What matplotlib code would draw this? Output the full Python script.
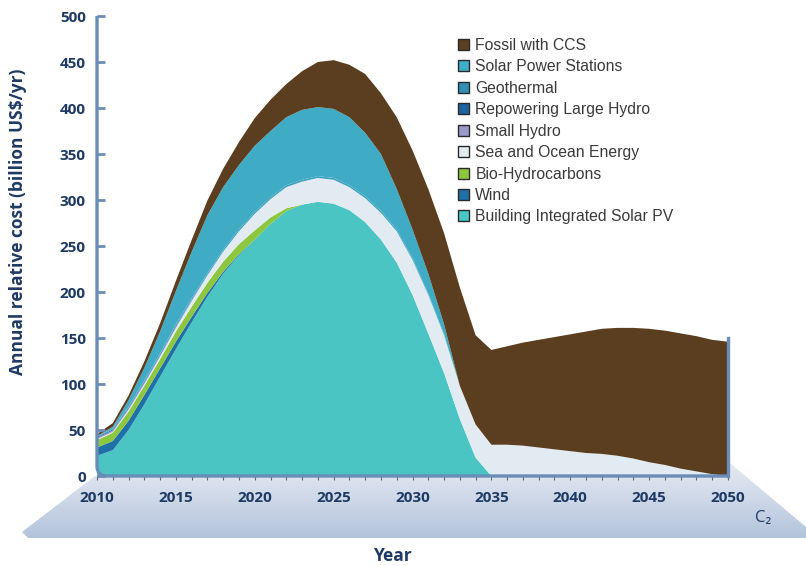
import numpy as np
import matplotlib.pyplot as plt
from matplotlib.patches import Polygon, PathPatch, Patch
from matplotlib.path import Path
from matplotlib.colors import LinearSegmentedColormap

years = list(range(2010, 2051))
bipv = [22, 28, 50, 78, 108, 138, 167, 195, 220, 240,
        257, 274, 288, 295, 298, 296, 289, 276, 257, 232,
        197, 155, 112, 62, 20] + [0] * 16
wind = [9, 10, 10, 10, 9, 8, 6, 4, 2, 1] + [0] * 31
bio = [8, 9, 10, 10, 10, 11, 11, 11, 11, 11, 10, 7, 3] + [0] * 28
sea = [1, 1, 2, 2, 3, 4, 6, 8, 11, 14,
       18, 20, 23, 25, 26, 26, 25, 26, 29, 34,
       38, 42, 41, 36, 36, 34, 34, 33, 31, 29,
       27, 25, 24, 22, 19, 15, 12, 8, 5, 2, 0]
small_hydro = [1.5, 1.5, 1.5, 1.5, 1, 1, 1, 0.5] + [0] * 33
large_hydro = [1, 1, 1, 1, 1, 1, 0.5] + [0] * 34
geothermal = [0.5, 1, 1, 1.5, 1.5, 2, 2, 2, 2, 2,
              2, 2, 2, 2, 2, 2, 2, 2, 2, 2,
              2, 1.5, 1, 0] + [0] * 17
solar_stations = [0.5, 2, 7, 13.5, 23.5, 36, 50, 63, 68, 70,
                  72, 72, 74, 76, 75, 75, 74, 69, 62, 44,
                  31, 21.5, 11, 0] + [0] * 17
fossil_ccs = [2, 4, 5, 7, 9, 11, 13, 16, 20, 25,
              30, 34, 36, 42, 49, 53, 57, 64, 66, 78,
              86, 92, 99, 107, 97, 103, 107, 112, 117, 122,
              127, 132, 136, 139, 142, 145, 146, 147, 147, 146, 146]

labels = ['Building Integrated Solar PV', 'Wind', 'Bio-Hydrocarbons',
          'Sea and Ocean Energy', 'Small Hydro', 'Repowering Large Hydro',
          'Geothermal', 'Solar Power Stations', 'Fossil with CCS']
series = [bipv, wind, bio, sea, small_hydro, large_hydro,
          geothermal, solar_stations, fossil_ccs]
colors = ['#4bc4c4', '#1f6fa8', '#8dc63f', '#e2eaf2', '#9b98cc',
          '#1c63a0', '#3aa0c0', '#40abc4', '#5b3e1f']
legend_colors = ['#4bc4c4', '#1f6fa8', '#8dc63f', '#e2eaf2', '#9b98cc',
                 '#1c63a0', '#2f8fb5', '#40aec8', '#5b3e1f']

navy = '#1e3a64'
frame = '#6a8cb8'

fig = plt.figure(figsize=(8.06, 5.66), dpi=100)

# floor under the chart
bg = fig.add_axes([0, 0, 1, 1], zorder=0)
bg.set_xlim(0, 806)
bg.set_ylim(566, 0)
bg.axis('off')
floor = Polygon([(95, 476), (730, 476), (730, 463), (806, 527), (806, 538),
                 (28, 538), (22, 532)], closed=True, facecolor='none', edgecolor='none')
bg.add_patch(floor)
cmap = LinearSegmentedColormap.from_list('floor', ['#e6ebf3', '#b4c4dc'])
grad = np.linspace(0, 1, 100).reshape(-1, 1)
im = bg.imshow(grad, cmap=cmap, extent=[0, 806, 538, 462], aspect='auto')
im.set_clip_path(floor)

ax = fig.add_axes([97 / 806, 1 - 476 / 566, 631 / 806, 460 / 566], zorder=1)
ax.set_facecolor('none')
ax.stackplot(years, *series, colors=colors, linewidth=0)
ax.set_xlim(2010, 2050)
ax.set_ylim(0, 500)
for s in ax.spines.values():
    s.set_visible(False)

ax.set_yticks(np.arange(0, 501, 50))
ax.tick_params(axis='y', direction='in', length=6, width=2, color=frame,
               labelsize=11, labelcolor=navy, pad=8)
ax.set_xticks(np.arange(2010, 2051, 5))
ax.set_xticks(years, minor=True)
ax.tick_params(axis='x', which='both', direction='out', length=3, width=0.8,
               color='#666666', labelsize=11, labelcolor=navy, pad=8)
for t in ax.get_xticklabels() + ax.get_yticklabels():
    t.set_fontweight('bold')
    t.set_family('Open Sans')

ax.plot([2050, 2050], [0, 150], color=frame, lw=2.4, clip_on=False, zorder=5)

handles = [Patch(facecolor=c, edgecolor='#2a2a2a', linewidth=1) for c in legend_colors]
leg = ax.legend(handles[::-1], labels[::-1], loc='upper left',
                bbox_to_anchor=(458 / 806, 1 - 38 / 566), bbox_transform=fig.transFigure,
                frameon=False, handlelength=0.7, handleheight=0.7,
                handletextpad=0.4, labelspacing=0.41, borderpad=0, borderaxespad=0,
                prop={'family': 'Liberation Sans', 'size': 11.3})
for t in leg.get_texts():
    t.set_color('#3a3a3a')

# axis frame with rounded corner
ov = fig.add_axes([0, 0, 1, 1], zorder=2)
ov.set_xlim(0, 806)
ov.set_ylim(566, 0)
ov.axis('off')
ov.patch.set_alpha(0)
path = Path([(97, 16), (97, 466), (97, 476), (107, 476), (728, 476)],
            [Path.MOVETO, Path.LINETO, Path.CURVE3, Path.CURVE3, Path.LINETO])
ov.add_patch(PathPatch(path, facecolor='none', edgecolor=frame, lw=2.4))

fig.text(18 / 806, 1 - 222 / 566, 'Annual relative cost (billion US$/yr)', rotation=90,
         ha='center', va='center', fontsize=12.5, fontweight='bold', color=navy,
         family='Open Sans')
fig.text(393 / 806, 1 - 556 / 566, 'Year', ha='center', va='center', fontsize=12.5,
         fontweight='bold', color=navy, family='Open Sans')
fig.text(763 / 806, 1 - 518 / 566, 'C\u2082', ha='center', va='center', fontsize=12,
         color=navy, family=['Open Sans', 'DejaVu Sans'])

fig.savefig('out.png', dpi=100)
